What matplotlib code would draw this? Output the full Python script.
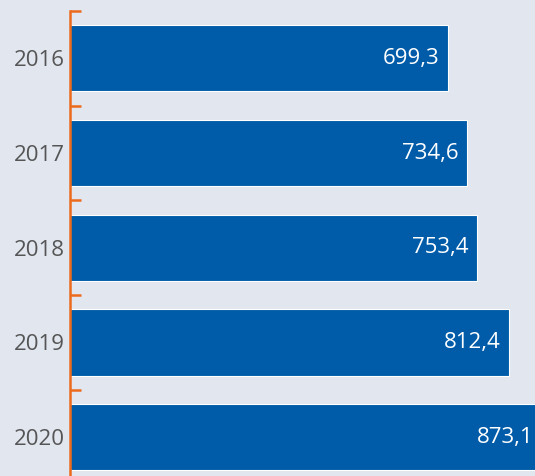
import matplotlib as mpl
mpl.use('Agg')
import matplotlib.pyplot as plt

years = ['2016', '2017', '2018', '2019', '2020']
values = [699.3, 734.6, 753.4, 812.4, 873.1]
value_labels = ['699,3', '734,6', '753,4', '812,4', '873,1']

bg = '#e1e6ef'
bar_color = '#005ca9'
orange = '#ec6a1c'

plt.rcParams['font.family'] = ['Open Sans', 'DejaVu Sans']

fig = plt.figure(figsize=(5.35, 4.76), dpi=100)
fig.patch.set_facecolor(bg)
ax = fig.add_axes([70 / 535, 0, 465 / 535, 465 / 476])
ax.set_facecolor(bg)

pos = list(range(len(years)))
ax.barh(pos, values, height=0.70, color=bar_color, edgecolor='white', linewidth=0.8)

for p, v, lab in zip(pos, values, value_labels):
    ax.annotate(lab, (v, p), xytext=(-9, 0), textcoords='offset pixels',
                ha='right', va='center', color='white', fontsize=16,
                annotation_clip=False)

ax.set_xlim(0, 860)
ax.set_ylim(4.41, -0.5)

ax.set_yticks(pos)
ax.set_yticklabels(years)
ax.set_yticks([-0.5, 0.5, 1.5, 2.5, 3.5], minor=True)
ax.tick_params(axis='y', which='major', length=0, pad=4, labelsize=16, labelcolor='#555555')
ax.tick_params(axis='y', which='minor', direction='in', length=8, width=1.8, color=orange)
ax.set_xticks([])

for s in ['top', 'right', 'bottom']:
    ax.spines[s].set_visible(False)
ax.spines['left'].set_color(orange)
ax.spines['left'].set_linewidth(1.8)
ax.spines['left'].set_zorder(5)

fig.savefig('out.png', dpi=100, facecolor=bg)
plt.close(fig)
